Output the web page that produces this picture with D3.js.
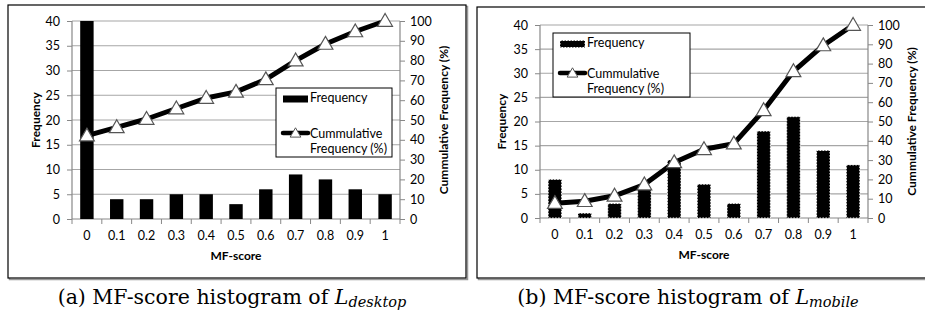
<!DOCTYPE html>
<html><head><meta charset="utf-8">
<script src="https://cdn.jsdelivr.net/npm/d3@7"></script>
<style>body{margin:0;background:#fff}svg{display:block}</style>
</head><body>
<svg id="c" width="925" height="320"></svg>
<script>
const categories = ["0","0.1","0.2","0.3","0.4","0.5","0.6","0.7","0.8","0.9","1"];
const freqDesktop = [40,4,4,5,5,3,6,9,8,6,5];
const cumDesktop = [42.1,46.3,50.5,55.8,61.1,64.2,70.5,80,88.4,94.7,100];
const freqMobile = [8,1,3,6,12,7,3,18,21,14,11];
const cumMobile = [7.7,8.7,11.5,17.3,28.8,35.6,38.5,55.8,76,89.4,100];
const leftTicks = [0,5,10,15,20,25,30,35,40];
const rightTicks = [0,10,20,30,40,50,60,70,80,90,100];
const captions = [["(a) MF-score histogram of ","L","desktop"],["(b) MF-score histogram of ","L","mobile"]];

const svg = d3.select("#c");
const FONT = "Lato, 'Open Sans', sans-serif";

function panel(o){
  const g = svg.append("g");
  g.append("rect").attr("x",o.box[0]+1.5).attr("y",o.box[1]+1.5).attr("width",o.box[2]-o.box[0]).attr("height",o.box[3]-o.box[1])
    .attr("fill","none").attr("stroke","#999").attr("stroke-width",1.5);
  g.append("rect").attr("x",o.box[0]).attr("y",o.box[1]).attr("width",o.box[2]-o.box[0]).attr("height",o.box[3]-o.box[1])
    .attr("fill","#fff").attr("stroke","#000").attr("stroke-width",1.2);

  const x = d3.scaleBand().domain(categories).range([o.L,o.R]).paddingInner(0.55).paddingOuter(0.275);
  const xb = d3.scaleBand().domain(categories).range([o.L,o.R]);
  const yL = d3.scaleLinear().domain([0,40]).range([o.B,o.T]);
  const yR = d3.scaleLinear().domain([0,100]).range([o.B,o.T]);

  g.append("g").selectAll("line").data(leftTicks.slice(1)).join("line")
    .attr("x1",o.L).attr("x2",o.R).attr("y1",d=>yL(d)).attr("y2",d=>yL(d))
    .attr("stroke","#a6a6a6").attr("stroke-width",1.2);

  const ax = g.append("g").attr("transform",`translate(${o.L},0)`)
    .call(d3.axisLeft(yL).tickValues(leftTicks).tickSize(5).tickPadding(7));
  const ar = g.append("g").attr("transform",`translate(${o.R},0)`)
    .call(d3.axisRight(yR).tickValues(rightTicks).tickSize(5).tickPadding(5));
  const bx = g.append("g").attr("transform",`translate(0,${o.B})`)
    .call(d3.axisBottom(xb).tickSize(0).tickPadding(12));
  g.append("g").selectAll("line").data(categories.concat(["end"])).join("line")
    .attr("x1",(d,i)=>o.L+i*xb.step()).attr("x2",(d,i)=>o.L+i*xb.step())
    .attr("y1",o.B).attr("y2",o.B+5).attr("stroke","#888").attr("stroke-width",1);
  [ax,ar,bx].forEach(a=>{
    a.selectAll("path").attr("stroke","#888").attr("stroke-width",1.2);
    a.selectAll("line").attr("stroke","#888");
    a.selectAll("text").attr("font-family",FONT).attr("font-size",12.5).attr("fill","#000");
  });
  ax.select("path").attr("d",`M0,${o.B}V${o.T}`);
  ar.select("path").attr("d",`M0,${o.B}V${o.T}`);
  bx.select("path").attr("d",`M${o.L},0H${o.R}`);

  g.append("g").selectAll("rect").data(o.freq).join("rect")
    .attr("x",(d,i)=>x(categories[i])).attr("width",x.bandwidth())
    .attr("y",d=>yL(d)).attr("height",d=>o.B-yL(d))
    .attr("fill","#000")
    .attr("stroke",o.dashed?"#fff":"none").attr("stroke-width",o.dashed?1:0)
    .attr("stroke-dasharray",o.dashed?"1.5,1.5":null);

  const pts = o.cum.map((v,i)=>[xb(categories[i])+xb.bandwidth()/2, yR(v)]);
  g.append("path").attr("d",d3.line()(pts)).attr("fill","none").attr("stroke","#000").attr("stroke-width",5).attr("stroke-linejoin","round");
  const tri = d3.symbol().type(d3.symbolTriangle).size(95);
  g.append("g").selectAll("path").data(pts).join("path")
    .attr("transform",d=>`translate(${d[0]},${d[1]+1})`).attr("d",tri())
    .attr("fill","#fff").attr("stroke","#555").attr("stroke-width",1.2);

  g.append("text").attr("transform",`translate(${o.ylx},${(o.T+o.B)/2}) rotate(-90)`)
    .attr("text-anchor","middle").attr("dominant-baseline","middle")
    .attr("font-family",FONT).attr("font-weight","bold").attr("font-size",12).text("Frequency");
  g.append("text").attr("transform",`translate(${o.yrx},${(o.T+o.B)/2}) rotate(-90)`)
    .attr("text-anchor","middle").attr("dominant-baseline","middle")
    .attr("font-family",FONT).attr("font-weight","bold").attr("font-size",12).text("Cummulative Frequency (%)");
  g.append("text").attr("x",(o.L+o.R)/2).attr("y",o.B+38).attr("text-anchor","middle").attr("dominant-baseline","middle")
    .attr("font-family",FONT).attr("font-weight","bold").attr("font-size",12).text("MF-score");

  const lg = o.leg;
  g.append("rect").attr("x",lg.x0).attr("y",lg.y0).attr("width",lg.x1-lg.x0).attr("height",lg.y1-lg.y0)
    .attr("fill","#fff").attr("stroke","#000").attr("stroke-width",1);
  g.append("rect").attr("x",lg.x0+7).attr("y",lg.f-3.5).attr("width",25).attr("height",7).attr("fill","#000")
    .attr("stroke",o.dashed?"#fff":"none").attr("stroke-dasharray",o.dashed?"1.5,1.5":null);
  g.append("line").attr("x1",lg.x0+7).attr("x2",lg.x0+32).attr("y1",lg.c).attr("y2",lg.c).attr("stroke","#000").attr("stroke-width",4.5).attr("stroke-linecap","round");
  g.append("path").attr("transform",`translate(${lg.x0+19.5},${lg.c+1})`).attr("d",d3.symbol().type(d3.symbolTriangle).size(50)())
    .attr("fill","#fff").attr("stroke","#555").attr("stroke-width",1);
  const lt = g.append("g").attr("font-family",FONT).attr("font-size",12.5);
  lt.append("text").attr("x",lg.x0+34).attr("y",lg.f).attr("dominant-baseline","middle").text("Frequency");
  lt.append("text").attr("x",lg.x0+34).attr("y",lg.c+2).attr("dominant-baseline","middle").text("Cummulative");
  lt.append("text").attr("x",lg.x0+34).attr("y",lg.c+17).attr("dominant-baseline","middle").text("Frequency (%)");

  const cap = svg.append("text").attr("x",o.capx).attr("y",304).attr("text-anchor","middle")
    .attr("font-family","'DejaVu Serif', 'Liberation Serif', serif").attr("font-size",20.5);
  cap.append("tspan").text(o.cap[0]);
  cap.append("tspan").attr("font-style","italic").text(o.cap[1]);
  cap.append("tspan").attr("font-style","italic").attr("font-size",14.5).attr("dy",3).text(o.cap[2]);
}

panel({box:[8,5,466,278], L:72, R:400, T:21, B:219, ylx:37, yrx:445,
  freq:freqDesktop, cum:cumDesktop, dashed:false,
  leg:{x0:276,x1:392,y0:88,y1:157,f:99,c:133}, capx:232, cap:captions[0]});
panel({box:[477,7,930,278], L:540, R:868, T:25, B:218, ylx:503, yrx:913,
  freq:freqMobile, cum:cumMobile, dashed:true,
  leg:{x0:553,x1:690,y0:33,y1:97,f:44,c:73}, capx:688, cap:captions[1]});
</script>
</body></html>
